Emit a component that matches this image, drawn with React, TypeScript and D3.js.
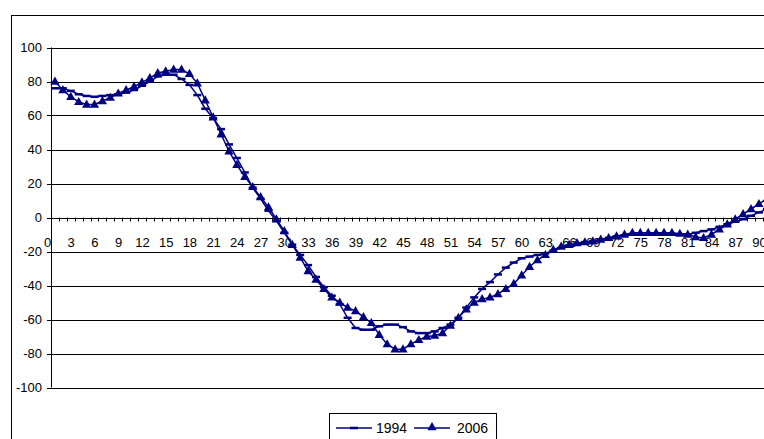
import * as d3 from 'd3';

// category index 0..90, labelled every 3rd
const categories = d3.range(0, 91);
const tickLabels = [0, 3, 6, 9, 12, 15, 18, 21, 24, 27, 30, 33, 36, 39, 42, 45, 48, 51, 54, 57, 60, 63, 66, 69, 72, 75, 78, 81, 84, 87, 90];
const yTicks = [-100, -80, -60, -40, -20, 0, 20, 40, 60, 80, 100];

const values1994 = [
  76, 76, 74.5, 72.5, 71.5, 71, 71.5, 72, 72.5, 73.5,
  75, 77.5, 80, 83, 84, 84, 81.5, 78, 72, 64,
  58.5, 52, 43, 35, 26.5, 17.5, 11, 4, -2, -9,
  -16, -22, -28, -35, -41, -46, -51, -59, -65, -66,
  -66, -64, -63, -63, -64.5, -67, -68, -68, -67, -65,
  -63, -59, -53, -47, -42, -38, -33.5, -29.5, -26.5, -24,
  -23, -22, -21, -19.5, -18, -16.5, -15.5, -14.5, -14, -13,
  -12, -11, -10.5, -10, -10, -10, -10, -10, -10, -10,
  -10, -9, -8, -7, -5.5, -4, -2.5, -1, 1, 3,
  5,
];

const values2006 = [
  80, 75, 71, 68, 66.5, 66.5, 68.5, 70.5, 73, 75,
  77, 79.5, 82, 85, 86, 87, 87, 84.5, 79, 69,
  59, 49, 39, 31, 24, 18, 12, 6, -1, -8,
  -16, -23.5, -31.5, -36.5, -42, -47, -50, -53, -55, -58.5,
  -62, -69, -74.5, -77.5, -77.5, -74.5, -72, -70, -69.5, -68,
  -63.5, -59, -54, -50, -48, -47, -45, -42, -39, -34,
  -29, -25, -22, -19, -17, -16, -15, -14.5, -14, -13,
  -12, -11, -10, -9, -9, -9, -9, -9, -9, -9.5,
  -10, -11.5, -12, -10, -7, -4, -1, 2, 5, 8,
  11,
];

const NAVY = '#000080';
const FONT = '"Liberation Sans", Arial, sans-serif';

const W = 764;
const H = 439;
const plotLeft = 51;
const step = 7.91;

export default function App() {
  const x = d3.scaleBand<number>()
    .domain(categories)
    .range([plotLeft, plotLeft + step * categories.length]);
  const y = d3.scaleLinear().domain([-100, 100]).range([387.5, 47.5]);
  const cx = (i: number) => (x(i) as number) + x.bandwidth() / 2;

  const line = d3.line<number>()
    .x((_, i) => cx(i))
    .y(d => y(d));

  const tri = 'M0,-5L4.6,3.2L-4.6,3.2Z';

  return (
    <svg width={W} height={H} style={{ position: 'absolute', left: 0, top: 0, background: '#fff' }}
      fontFamily={FONT}>
      <rect x={0} y={0} width={W} height={H} fill="#fff" />
      {/* chart area border */}
      <rect x={11.5} y={15.5} width={W + 20} height={H + 20} fill="none" stroke="#000" strokeWidth={1} />

      {/* gridlines */}
      {yTicks.filter(t => t !== 0).map(t => (
        <line key={t} x1={plotLeft} x2={W + 10} y1={Math.round(y(t)) + 0.5} y2={Math.round(y(t)) + 0.5}
          stroke="#000" strokeWidth={1} />
      ))}

      {/* y axis */}
      <line x1={plotLeft + 0.5} x2={plotLeft + 0.5} y1={y(100)} y2={y(-100)} stroke="#000" />
      {yTicks.map(t => (
        <g key={t}>
          <line x1={plotLeft - 4} x2={plotLeft} y1={Math.round(y(t)) + 0.5} y2={Math.round(y(t)) + 0.5} stroke="#000" />
          <text x={42} y={y(t)} dy="0.36em" textAnchor="end" fontSize={13}>{t}</text>
        </g>
      ))}

      {/* x axis at zero */}
      <line x1={plotLeft} x2={W + 10} y1={Math.round(y(0)) + 0.5} y2={Math.round(y(0)) + 0.5} stroke="#000" />
      {categories.map(c => (
        <line key={c} x1={Math.round(x(c) as number) + 0.5} x2={Math.round(x(c) as number) + 0.5}
          y1={y(0)} y2={y(0) + 4} stroke="#000" />
      ))}
      {tickLabels.map(k => (
        <text key={k} x={(x(k) as number) - 3.5} y={246.5} textAnchor="middle" fontSize={13}>{k}</text>
      ))}

      {/* 1994 series */}
      <path d={line(values1994) || ''} fill="none" stroke={NAVY} strokeWidth={1.5} />
      {values1994.map((v, i) => (
        <rect key={i} x={cx(i) - 4} y={y(v) - 1.25} width={8} height={2.5} fill={NAVY} />
      ))}

      {/* 2006 series */}
      <path d={line(values2006) || ''} fill="none" stroke={NAVY} strokeWidth={1.5} />
      {values2006.map((v, i) => (
        <path key={i} d={tri} transform={`translate(${cx(i)},${y(v)})`} fill={NAVY} />
      ))}

      {/* legend */}
      <rect x={329.5} y={413.5} width={167} height={40} fill="#fff" stroke="#000" />
      <line x1={336} x2={372} y1={428} y2={428} stroke={NAVY} strokeWidth={1.5} />
      <rect x={350} y={426.75} width={8} height={2.5} fill={NAVY} />
      <text x={376} y={433} fontSize={14}>1994</text>
      <line x1={414} x2={450} y1={428} y2={428} stroke={NAVY} strokeWidth={1.5} />
      <path d={tri} transform="translate(432,427)" fill={NAVY} />
      <text x={457} y={433} fontSize={14}>2006</text>
    </svg>
  );
}
